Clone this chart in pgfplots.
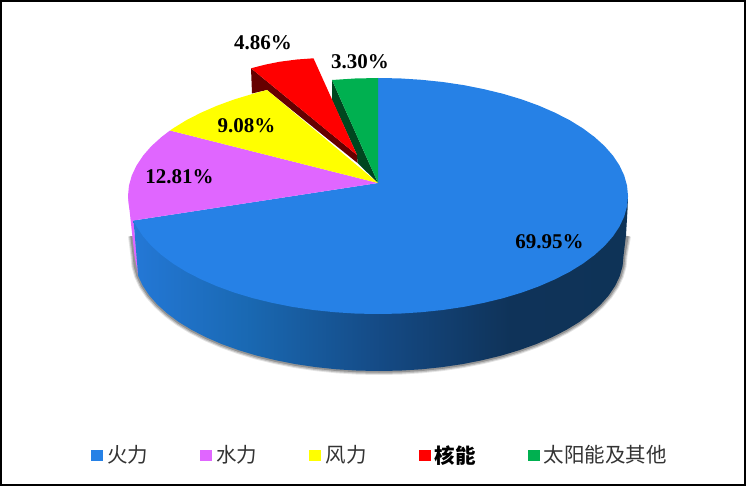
\documentclass[border=0pt]{standalone}
\usepackage{pgfplots}
\pgfplotsset{compat=1.18}
\usepackage{fontspec}
\setmainfont{Liberation Serif}
\newfontfamily\cjk{Noto Sans CJK SC}
\definecolor{cfire}{HTML}{2681E6}
\definecolor{cwater}{HTML}{E066FF}
\definecolor{cwind}{HTML}{FFFF00}
\definecolor{cnuke}{HTML}{FF0000}
\definecolor{csun}{HTML}{00B050}
\definecolor{dnuke}{HTML}{660000}
\definecolor{dsun}{HTML}{00471F}
\pgfdeclarehorizontalshading{sideshade}{100bp}{rgb(0bp)=(0.14,0.47,0.84); rgb(25bp)=(0.14,0.47,0.84); rgb(36.5bp)=(0.10,0.41,0.70); rgb(50bp)=(0.08,0.29,0.52); rgb(63bp)=(0.06,0.20,0.35); rgb(75bp)=(0.055,0.20,0.34); rgb(100bp)=(0.055,0.20,0.34)}
\newcommand{\basearc}{(623.5,256)(622.6,266)(619.8,276)(615.2,285.8)(608.8,295.3)(600.6,304.6)(590.7,313.5)(579.3,322)(566.3,329.9)(551.9,337.3)(536.2,344.1)(519.2,350.2)(501.3,355.6)(482.3,360.2)(462.6,364.1)(442.3,367.1)(421.4,369.3)(400.3,370.6)(379,371)(357.7,370.6)(336.6,369.3)(315.7,367.1)(295.4,364.1)(275.7,360.2)(256.7,355.6)(238.8,350.2)(221.8,344.1)(206.1,337.3)(191.7,329.9)(178.7,322)(167.3,313.5)(157.4,304.6)(149.2,295.3)(142.8,285.8)(138.2,276)}
\begin{document}
\begin{tikzpicture}
\begin{axis}[
  width=746pt,height=486pt,scale only axis,axis lines=none,
  xmin=0,xmax=746,ymin=0,ymax=486,y dir=reverse,clip=false,
  legend columns=5,
  legend cell align=left,
  legend style={draw=none,fill=none,at={(axis cs:91,455)},anchor=west,
    inner xsep=0pt,inner ysep=0pt,
    /tikz/every even column/.style={column sep=52pt},
    nodes={inner sep=0pt,font=\fontsize{20.5}{22}\selectfont,text=black!80}},
]
% frame
\addplot[draw=black,line width=2.2pt,forget plot] coordinates {(1.1,1.1)(744.9,1.1)(744.9,484.9)(1.1,484.9)} --cycle;
% shadow
\addplot[draw=black!10,line width=8pt,line join=round,forget plot] coordinates {(627,236)\basearc(135.4,266)(134.5,256)(132,236)};
\addplot[draw=black!25,line width=6pt,line join=round,forget plot] coordinates {(627,236)\basearc(135.4,266)(134.5,256)(132,236)};
\addplot[draw=black!42,line width=3.5pt,line join=round,forget plot] coordinates {(627,236)\basearc(135.4,266)(134.5,256)(132,236)};
% magenta side sliver
\addplot[fill=cwater,draw=none,forget plot] coordinates {(128,196)(133.5,220.5)(138,274)(134.5,256)} --cycle;
% blue side
\addplot[draw=none,shade,shading=sideshade,forget plot] coordinates {(628,196)(627.5,210)(626,235)\basearc(133.5,220.5)} --cycle;
% blue top
\addplot[fill=cfire,draw=none,forget plot] coordinates {(378,183)(378,78)(399.8,78.4)(421.4,79.8)(442.7,82)(463.5,85.1)(483.7,89.1)(503,93.8)(521.4,99.3)(538.7,105.6)(554.8,112.6)(569.5,120.1)(582.8,128.3)(594.5,137)(604.6,146.1)(612.9,155.6)(619.5,165.5)(624.2,175.5)(627.05,185.7)(628,196)(627.05,206.3)(624.2,216.5)(619.5,226.5)(612.9,236.4)(604.6,245.9)(594.5,255)(582.8,263.7)(569.5,271.9)(554.8,279.4)(538.7,286.4)(521.4,292.7)(503,298.2)(483.7,302.9)(463.5,306.9)(442.7,310)(421.4,312.2)(399.8,313.6)(378,314)(356.2,313.6)(334.6,312.2)(313.3,310)(292.5,306.9)(272.3,302.9)(253,298.2)(234.6,292.7)(217.3,286.4)(201.2,279.4)(186.5,271.9)(173.2,263.7)(161.5,255)(151.4,245.9)(143.1,236.4)(136.5,226.5)(133.5,220.5)} --cycle;
% magenta top
\addplot[fill=cwater,draw=none,forget plot] coordinates {(378,183)(133.5,220.5)(131.8,216.5)(128.95,206.3)(128,196)(128.95,185.7)(131.8,175.5)(136.5,165.5)(143.1,155.6)(151.4,146.1)(161.5,137)(170,130.5)} --cycle;
% green
\addplot[fill=dsun,draw=none,forget plot] coordinates {(332,80)(332,100)(357,155)(357.5,163)(378,183)} --cycle;
\addplot[fill=csun,draw=none,forget plot] coordinates {(378,183)(332,80)(355,78.5)(378,78)} --cycle;
% red
\addplot[fill=dnuke,draw=none,forget plot] coordinates {(251,68.3)(252,93.5)(267,90)(357.5,163)(357,155)} --cycle;
\addplot[fill=cnuke,draw=none,forget plot] coordinates {(357,155)(251,68.3)(265,64.7)(280,61.7)(297,59.5)(313.5,58.3)} --cycle;
% yellow
\addplot[fill=cwind,draw=none,forget plot] coordinates {(378,183)(170,130.5)(173.2,128.3)(186.5,120.1)(201.2,112.6)(217.3,105.6)(234.6,99.3)(253,93.8)(267,90)} --cycle;
% value labels
\node[font=\fontsize{21}{23}\selectfont\bfseries] at (axis cs:549.5,242) {69.95\%};
\node[font=\fontsize{21}{23}\selectfont\bfseries] at (axis cs:179.5,177) {12.81\%};
\node[font=\fontsize{21}{23}\selectfont\bfseries] at (axis cs:246.5,125.5) {9.08\%};
\node[font=\fontsize{21}{23}\selectfont\bfseries] at (axis cs:263,43) {4.86\%};
\node[font=\fontsize{21}{23}\selectfont\bfseries] at (axis cs:360,61.5) {3.30\%};
% legend
\addlegendimage{legend image code/.code={\fill[cfire] (0pt,-5pt) rectangle (11pt,5pt);\path (15.7pt,0pt);}}
\addlegendentry{\cjk 火力}
\addlegendimage{legend image code/.code={\fill[cwater] (0pt,-5pt) rectangle (11pt,5pt);\path (15.7pt,0pt);}}
\addlegendentry{\cjk 水力}
\addlegendimage{legend image code/.code={\fill[cwind] (0pt,-5pt) rectangle (11pt,5pt);\path (15.7pt,0pt);}}
\addlegendentry{\cjk 风力}
\addlegendimage{legend image code/.code={\fill[cnuke] (0pt,-5pt) rectangle (11pt,5pt);\path (15.7pt,0pt);}}
\addlegendentry{\cjk\bfseries\color{black} 核能}
\addlegendimage{legend image code/.code={\fill[csun] (0pt,-5pt) rectangle (11pt,5pt);\path (15.7pt,0pt);}}
\addlegendentry{\cjk 太阳能及其他}
\end{axis}
\end{tikzpicture}
\end{document}
